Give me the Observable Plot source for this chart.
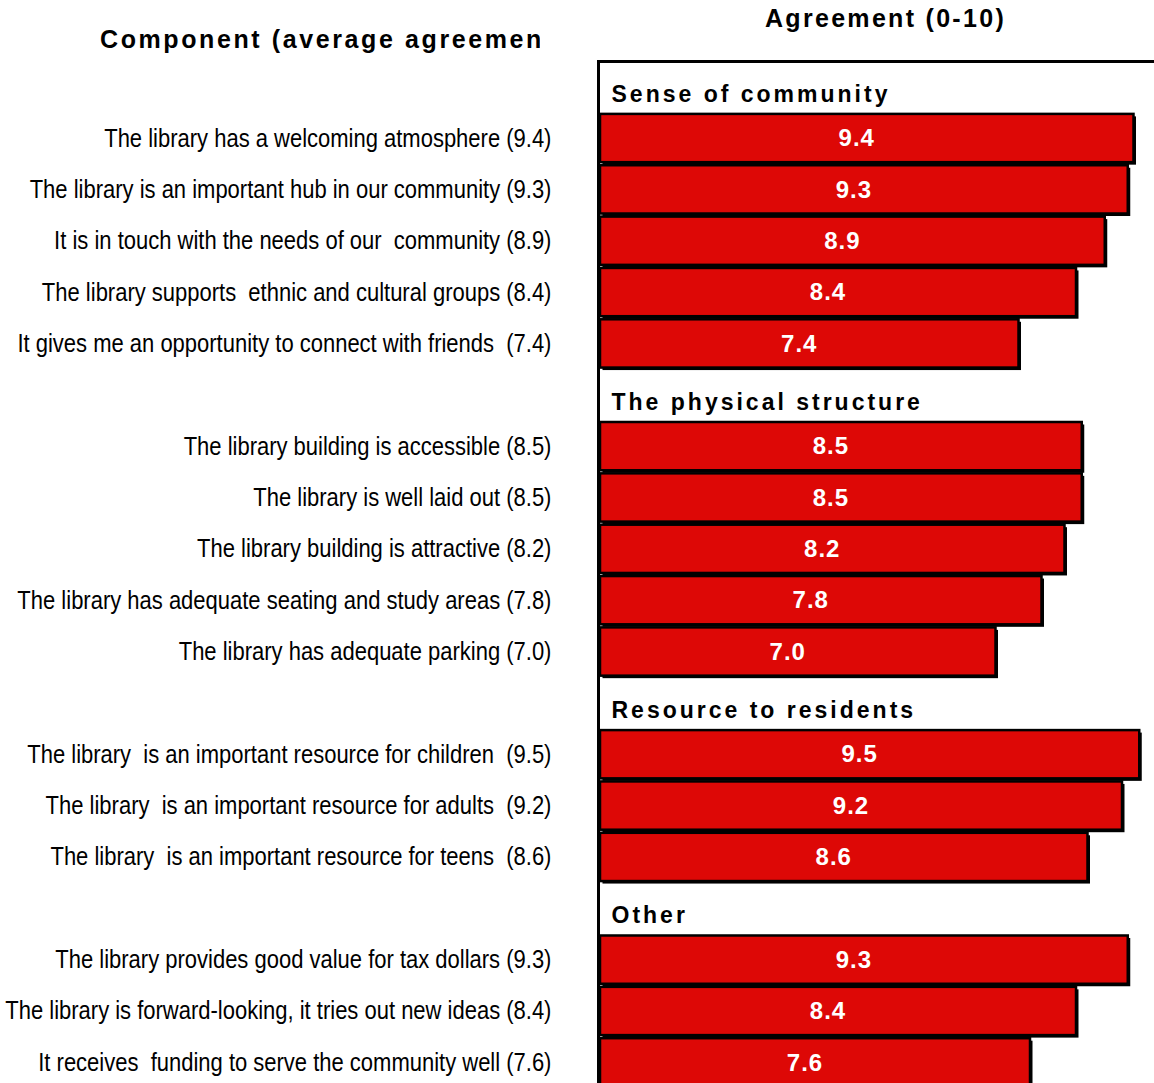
<!DOCTYPE html>
<html>
<head>
<meta charset="utf-8">
<script src="https://cdn.jsdelivr.net/npm/d3@7"></script>
<script src="https://cdn.jsdelivr.net/npm/@observablehq/plot@0.6"></script>
<style>
  html, body { margin: 0; padding: 0; background: #fff; overflow: hidden; }
  #wrap { position: relative; width: 1154px; height: 1083px; overflow: hidden; }
  #chart { position: absolute; left: 0; top: 0; width: 1170px; }
  #chart svg { max-width: none !important; }
  .title { position: absolute; font-family: "Liberation Sans", Arial, sans-serif; font-weight: bold; white-space: nowrap; color: #000; }
  #ytitle { left: 100px; top: 25px; width: 440px; overflow: hidden; font-size: 25px; letter-spacing: 2.6px; }
  #xtitle { left: 765px; top: 4px; font-size: 25px; letter-spacing: 2.3px; }
</style>
</head>
<body>
<div id="wrap">
  <div id="chart"></div>
  <div class="title" id="ytitle">Component (average agreement)</div>
  <div class="title" id="xtitle">Agreement (0-10)</div>
</div>
<script>
const groups = ["Sense of community", "The physical structure", "Resource to residents", "Other"];
const statements = [
  "The library has a welcoming atmosphere",
  "The library is an important hub in our community",
  "It is in touch with the needs of our  community",
  "The library supports  ethnic and cultural groups",
  "It gives me an opportunity to connect with friends ",
  "The library building is accessible",
  "The library is well laid out",
  "The library building is attractive",
  "The library has adequate seating and study areas",
  "The library has adequate parking",
  "The library  is an important resource for children ",
  "The library  is an important resource for adults ",
  "The library  is an important resource for teens ",
  "The library provides good value for tax dollars",
  "The library is forward-looking, it tries out new ideas",
  "It receives  funding to serve the community well"
];
const statementGroup = [0, 0, 0, 0, 0, 1, 1, 1, 1, 1, 2, 2, 2, 3, 3, 3];
const values = [9.4, 9.3, 8.9, 8.4, 7.4, 8.5, 8.5, 8.2, 7.8, 7.0, 9.5, 9.2, 8.6, 9.3, 8.4, 7.6];

// Build rows: a heading slot before each group's statements
const heads = [];
const items = [];
const keys = [];
groups.forEach((g, gi) => {
  const hk = "head-" + gi;
  heads.push({key: hk, text: g});
  keys.push(hk);
  statements.forEach((s, i) => {
    if (statementGroup[i] !== gi) return;
    const k = "item-" + i;
    items.push({key: k, value: values[i], label: s + " (" + values[i].toFixed(1) + ")"});
    keys.push(k);
  });
});

const RED = "#dd0806";
const LABEL_X = 551;
const plot = Plot.plot({
  width: 1170,
  height: 1100,
  marginLeft: 598,
  marginTop: 61,
  marginRight: 0,
  marginBottom: 0,
  x: {domain: [0, 10], range: [593, 1168], axis: null},
  y: {domain: keys, range: [61, 1088], paddingInner: 0.06, paddingOuter: 0.03, round: false, axis: null},
  style: {fontFamily: "'Liberation Sans', Arial, sans-serif", background: "white", overflow: "visible", maxWidth: "none"},
  marks: [
    Plot.frame({stroke: "black", strokeWidth: 3}),
    Plot.barX(items, {x: "value", y: "key", fill: "black", insetLeft: 7, dx: 2.5, dy: 2.5}),
    Plot.barX(items, {x: "value", y: "key", fill: RED, stroke: "black", strokeWidth: 2.5, insetLeft: 7}),
    Plot.text(items, {
      x: d => d.value / 2, y: "key", text: d => d.value.toFixed(1),
      fill: "white", fontWeight: "bold", fontSize: 24, dx: -7
    }),
    Plot.text(items, {
      y: "key", text: "label", frameAnchor: "left", textAnchor: "end", dx: LABEL_X - 598,
      fontSize: 25, fill: "black"
    }),
    Plot.text(heads, {
      y: "key", text: "text", frameAnchor: "left", textAnchor: "start", dx: 13, dy: 7,
      fontSize: 23, fontWeight: "bold", fill: "black"
    })
  ]
});
document.getElementById("chart").appendChild(plot);
const textGroups = d3.select(plot).selectAll('g[aria-label="text"]').nodes();
// [0] values, [1] labels, [2] headings
if (textGroups[0]) textGroups[0].style.letterSpacing = "1px";
if (textGroups[1]) {
  // condensed face look: compress horizontally around the right-aligned anchor
  const g = textGroups[1];
  const wrapper = document.createElementNS("http://www.w3.org/2000/svg", "g");
  wrapper.setAttribute("transform", `translate(${LABEL_X},0) scale(0.88,1) translate(${-LABEL_X},0)`);
  g.parentNode.insertBefore(wrapper, g);
  wrapper.appendChild(g);
}
if (textGroups[2]) textGroups[2].style.letterSpacing = "3px";
</script>
</body>
</html>
